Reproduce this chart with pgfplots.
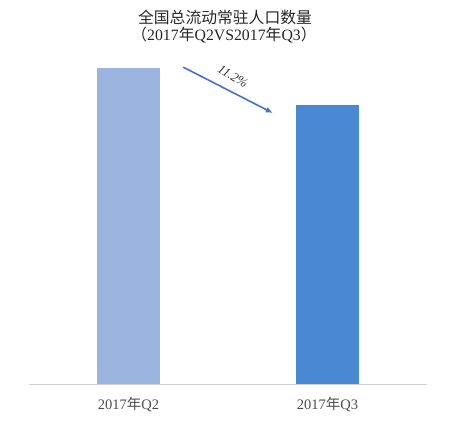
\documentclass[border=0pt]{standalone}
\usepackage{pgfplots}
\pgfplotsset{compat=1.18}
\usetikzlibrary{arrows.meta}
\usepackage{fontspec}
\setmainfont{Liberation Serif}
\newfontfamily\cjk{Noto Sans CJK SC}
\definecolor{barA}{HTML}{9BB3DF}
\definecolor{barB}{HTML}{4A88D4}
\definecolor{arr}{HTML}{4472C4}
\definecolor{axg}{HTML}{D0D0D0}
\begin{document}
\begin{tikzpicture}[x=1bp,y=1bp]
\path (0,0) rectangle (464,421);
\node[font=\fontsize{15.8bp}{17bp}\selectfont\cjk, text=black!85] at (225,404) {全国总流动常驻人口数量};
\node[font=\fontsize{15.8bp}{17bp}\selectfont, text=black!85] at (224,386) {{\cjk （}2017{\cjk 年}Q2VS2017{\cjk 年}Q3{\cjk ）}};
\begin{axis}[
  at={(29bp,37bp)}, anchor=south west,
  scale only axis, width=398bp, height=344bp,
  ymin=0, ymax=108.9, xmin=-0.5, xmax=1.5,
  axis y line=none, axis x line*=bottom,
  x axis line style={draw=axg, line width=1pt, -},
  xtick={0,1}, xticklabels={{2017{\cjk 年}Q2},{2017{\cjk 年}Q3}},
  major tick length=0pt,
  xticklabel style={font=\fontsize{14.5bp}{16bp}\selectfont, text=black!70, yshift=-10bp},
  ybar, bar width=63bp, bar shift=0pt,
]
\addplot[fill=barA, draw=none] coordinates {(0,100)};
\addplot[fill=barB, draw=none] coordinates {(1,88.3)};
\draw[arr, line width=1.6bp, -{Latex[length=7bp,width=6bp]}] (axis cs:0.275,100.3) -- (axis cs:0.725,85.8);
\node[rotate=-32, font=\fontsize{13bp}{14bp}\selectfont\itshape, text=black!80] at (axis cs:0.525,97.4) {11.2\%};
\end{axis}
\end{tikzpicture}
\end{document}
